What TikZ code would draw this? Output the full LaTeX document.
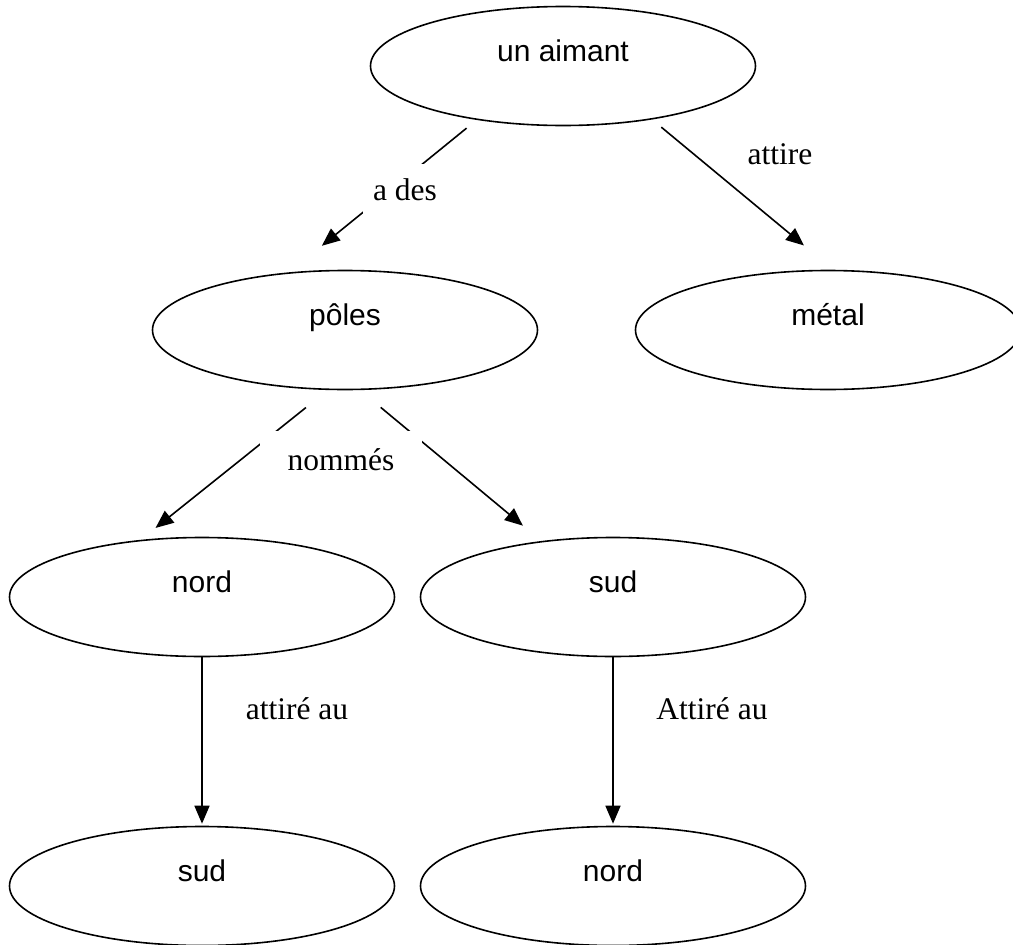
\documentclass[tikz,border=0pt]{standalone}
\usepackage{fontspec}
\setmainfont{Liberation Serif}
\setsansfont{Liberation Sans}
\usetikzlibrary{shapes.geometric,arrows.meta}

\begin{document}
\begin{tikzpicture}[x=1pt,y=-1pt,
  concept/.style={ellipse, draw, line width=1.6pt, minimum width=385pt, minimum height=119pt, inner sep=0pt, font=\sffamily\fontsize{30}{36}\selectfont, text height=22pt, text depth=32pt},
  link/.style={-{Triangle[length=18pt,width=15pt]}, line width=1.6pt},
  linkname/.style={font=\fontsize{31.5}{38}\selectfont, inner sep=0pt},
  gapbox/.style={linkname, fill=white}]
\clip (0,0) rectangle (1013,945);
\node[concept] (aimant) at (563,66) {un aimant};
\node[concept] (poles) at (345,330) {pôles};
\node[concept] (metal) at (828,330) {métal};
\node[concept] (nordA) at (202,597) {nord};
\node[concept] (sudA) at (613,597) {sud};
\node[concept] (sudB) at (202,886) {sud};
\node[concept] (nordB) at (613,886) {nord};

\draw[link, shorten <=13pt, shorten >=42pt] (aimant.212) -- (poles.134);
\draw[link, shorten <=12pt, shorten >=38pt] (aimant.329) -- (metal.85);
\draw[link, shorten <=28pt, shorten >=19pt] (poles.254) -- (nordA.137);
\draw[link, shorten <=27pt, shorten >=24pt] (poles.284) -- (sudA.142);
\draw[link, shorten >=2pt] (nordA.south) -- (sudB.north);
\draw[link, shorten >=2pt] (sudA.south) -- (nordB.north);

\node[gapbox, minimum width=84pt, minimum height=52pt] (ades) at (405,190) {a des};
\node[gapbox, minimum width=162pt, minimum height=58pt] (nommes) at (341,460) {nommés};
\node[linkname] (attire) at (780,154) {attire};
\node[linkname] (attireA) at (297,709) {attiré au};
\node[linkname] (attireB) at (712,709) {Attiré au};
\end{tikzpicture}
\end{document}
